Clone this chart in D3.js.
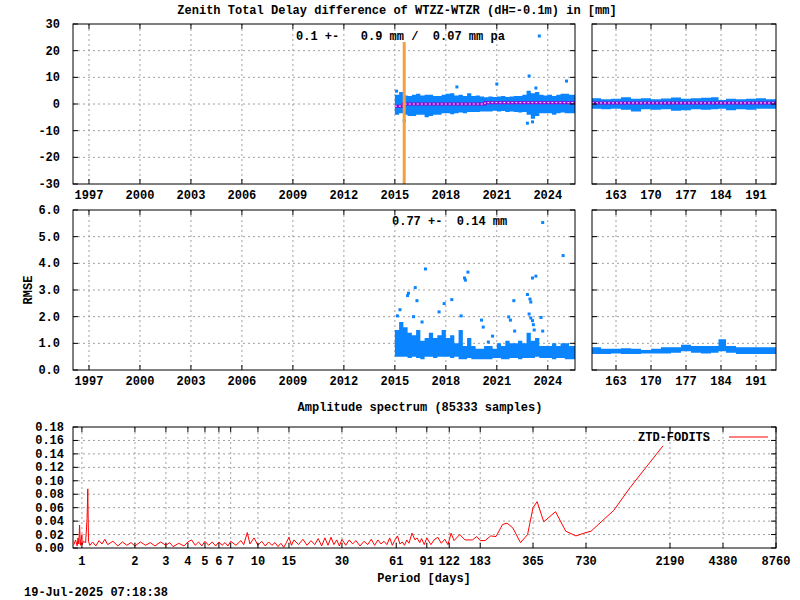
<!DOCTYPE html>
<html>
<head>
<meta charset="utf-8">
<script src="https://cdn.jsdelivr.net/npm/d3@7"></script>
<style>
  body { margin: 0; background: #fff; }
  text { font-family: "Liberation Mono", "DejaVu Sans Mono", monospace; font-weight: bold; font-size: 12px; fill: #000; }
</style>
</head>
<body>
<div id="canvas"></div>
<script>
"use strict"

// ---- data ----
let binYears = [2015.0, 2015.25, 2015.5, 2015.75, 2016.0, 2016.25, 2016.5, 2016.75, 2017.0, 2017.25, 2017.5, 2017.75,
    2018.0, 2018.25, 2018.5, 2018.75, 2019.0, 2019.25, 2019.5, 2019.75, 2020.0, 2020.25, 2020.5, 2020.75, 2021.0,
    2021.25, 2021.5, 2021.75, 2022.0, 2022.25, 2022.5, 2022.75, 2023.0, 2023.25, 2023.5, 2023.75, 2024.0, 2024.25,
    2024.5, 2024.75, 2025.0, 2025.25, 2025.6];
let ztdUpper = [3.5, 4.5, 3.2, 3.0, 3.5, 3.8, 3.2, 3.5, 3.5, 3.0, 3.0, 3.5, 3.8, 4.0, 3.2, 3.5, 3.0, 4.0, 3.0,
    3.2, 2.8, 2.5, 2.8, 2.6, 2.8, 3.0, 2.6, 2.8, 3.0, 3.0, 3.5, 5.0, 4.0, 4.5, 3.5, 3.2, 3.5, 3.0, 3.5, 3.8, 3.8, 3.5, 3.5];
let ztdLower = [-4.0, -3.5, -4.0, -4.5, -4.5, -4.0, -4.0, -5.0, -4.5, -4.0, -4.0, -3.5, -3.5, -3.8, -3.5, -3.2,
    -3.5, -3.0, -3.0, -3.0, -2.8, -2.8, -2.8, -2.5, -2.8, -2.6, -3.0, -2.8, -3.0, -3.2, -3.0, -4.0, -5.5, -4.5,
    -3.5, -3.5, -3.5, -4.0, -3.5, -3.2, -3.5, -3.5, -3.5];
let ztdOutliers = [[2023.5, 25.5], [2022.9, 10.5], [2021.0, 7.5], [2025.1, 8.6], [2018.65, 6.4],
    [2022.8, -7.2], [2023.1, -6.7], [2015.55, -6.3], [2023.3, 6.0], [2015.1, 4.8]];
let meanYears = [2015.0, 2015.5, 2020.3, 2025.6];
let meanValues = [-0.8, 0.0, 0.5, 0.5];

let rmsUpper = [1.5, 1.8, 1.6, 1.4, 1.3, 1.5, 1.1, 1.2, 1.4, 1.2, 1.3, 1.5, 1.2, 1.3, 1.0, 1.5, 0.9, 1.2, 0.9,
    0.8, 0.8, 0.9, 0.9, 0.8, 1.0, 0.9, 1.1, 1.0, 1.0, 1.1, 1.0, 1.4, 1.1, 1.2, 0.9, 0.9, 0.9, 1.0, 0.9, 1.0, 1.0, 0.9, 1.1];
let rmsLower = [0.5, 0.5, 0.5, 0.45, 0.5, 0.45, 0.4, 0.5, 0.5, 0.45, 0.5, 0.5, 0.5, 0.45, 0.5, 0.4, 0.4, 0.45,
    0.4, 0.4, 0.4, 0.4, 0.4, 0.45, 0.45, 0.4, 0.4, 0.45, 0.45, 0.4, 0.45, 0.45, 0.45, 0.5, 0.45, 0.45, 0.45,
    0.4, 0.45, 0.45, 0.4, 0.4, 0.4];
let rmsOutliers = [[2023.7, 5.53], [2024.9, 4.29], [2016.8, 3.79], [2019.3, 3.67], [2019.1, 3.45], [2019.15, 3.37],
    [2023.3, 3.52], [2023.1, 3.45], [2016.2, 3.09], [2015.8, 2.88], [2015.75, 2.79], [2016.3, 2.6], [2018.35, 2.64],
    [2017.9, 2.49], [2017.6, 2.18], [2022.0, 2.6], [2022.8, 2.83], [2022.95, 2.66], [2023.0, 2.55], [2015.3, 2.26],
    [2015.15, 2.03], [2018.9, 2.03], [2020.1, 1.87], [2020.2, 1.61], [2021.7, 1.99], [2021.8, 1.87], [2022.05, 1.46],
    [2023.6, 1.97], [2023.7, 1.46], [2022.9, 2.1], [2023.0, 1.95], [2023.1, 1.85], [2023.15, 1.7], [2023.2, 1.5],
    [2020.75, 1.27], [2020.5, 1.05], [2016.6, 1.8], [2016.1, 2.0]];

let binDays = [158.2, 160, 162, 164, 166, 168, 170, 172, 174, 176, 178, 180, 182, 183.5, 185, 187, 189, 191, 193, 195];
let dayUpper = [2.2, 1.8, 2.0, 2.5, 2.0, 2.2, 1.8, 2.1, 2.4, 2.0, 2.2, 2.3, 2.5, 1.5, 2.0, 1.8, 2.0, 2.2, 1.8, 2.0];
let dayLower = [-1.8, -2.0, -1.8, -2.2, -2.8, -2.0, -2.2, -2.0, -2.5, -2.3, -2.0, -2.2, -2.0, -1.8, -2.3, -2.0, -2.2, -1.8, -1.8, -1.8];
let dayRmsUpper = [0.85, 0.8, 0.8, 0.82, 0.8, 0.75, 0.8, 0.85, 0.85, 0.95, 0.9, 0.9, 0.9, 1.15, 0.9, 0.85, 0.85, 0.85, 0.85, 0.85];
let dayRmsLower = [0.6, 0.6, 0.62, 0.6, 0.6, 0.62, 0.62, 0.62, 0.65, 0.7, 0.65, 0.62, 0.65, 0.7, 0.65, 0.6, 0.6, 0.6, 0.6, 0.6];

let yearTicks = [1997, 2000, 2003, 2006, 2009, 2012, 2015, 2018, 2021, 2024];
let dayTicks = [163, 170, 177, 184, 191];

let periods = [0.9, 0.92, 0.94, 0.95, 0.96, 0.97, 0.98, 1.0, 1.003, 1.02, 1.05, 1.07, 1.08, 1.09, 1.11, 1.15, 1.2,
    1.25, 1.3, 1.35, 1.4, 1.5, 1.6, 1.7, 1.8, 1.9, 2, 2.15, 2.3, 2.45, 2.6, 2.8, 3, 3.15, 3.3, 3.55, 3.8, 4.0, 4.2,
    4.4, 4.6, 4.8, 5, 5.25, 5.5, 5.75, 6, 6.25, 6.5, 6.75, 7, 7.5, 8, 8.3, 8.7, 9, 9.5, 10, 10.5, 11, 11.5, 12,
    12.5, 13, 13.5, 14, 14.5, 15, 15.5, 16, 17, 18, 19, 20, 21, 22, 23, 24, 25, 26, 27, 28, 29, 30, 31.5, 33,
    34.5, 36, 38, 40, 42, 44, 46, 48, 50, 52, 54, 56, 58, 60, 62, 64, 66, 68, 70, 72, 75, 78, 80, 83, 85, 88, 91,
    96, 100, 105, 110, 115, 120, 125, 130, 140, 150, 165, 175, 183, 195, 210, 225, 245, 260, 280, 310, 340, 365,
    385, 420, 490, 560, 640, 730, 780, 900, 1050, 1300, 1600, 2000];
let amplitudes = [0.005, 0.012, 0.003, 0.015, 0.006, 0.034, 0.004, 0.02, 0.005, 0.01, 0.008, 0.044, 0.088, 0.01,
    0.004, 0.009, 0.003, 0.011, 0.006, 0.013, 0.005, 0.01, 0.003, 0.009, 0.004, 0.008, 0.003, 0.009, 0.004, 0.008,
    0.003, 0.009, 0.004, 0.008, 0.002, 0.007, 0.003, 0.009, 0.012, 0.004, 0.009, 0.003, 0.01, 0.004, 0.009, 0.003,
    0.009, 0.004, 0.008, 0.003, 0.01, 0.004, 0.011, 0.005, 0.023, 0.006, 0.015, 0.004, 0.01, 0.003, 0.009, 0.004,
    0.008, 0.002, 0.007, 0.001, 0.008, 0.016, 0.004, 0.012, 0.005, 0.013, 0.004, 0.011, 0.005, 0.014, 0.003, 0.015,
    0.004, 0.016, 0.005, 0.012, 0.003, 0.013, 0.004, 0.012, 0.006, 0.011, 0.003, 0.01, 0.005, 0.013, 0.004, 0.012,
    0.006, 0.01, 0.005, 0.015, 0.004, 0.012, 0.018, 0.006, 0.009, 0.004, 0.012, 0.007, 0.022, 0.012, 0.015, 0.008,
    0.014, 0.005, 0.015, 0.005, 0.012, 0.016, 0.007, 0.013, 0.005, 0.022, 0.011, 0.02, 0.012, 0.012, 0.017, 0.011,
    0.011, 0.018, 0.017, 0.035, 0.037, 0.03, 0.008, 0.02, 0.06, 0.069, 0.039, 0.054, 0.025, 0.018, 0.023, 0.025,
    0.04, 0.056, 0.09, 0.12, 0.152];
let periodTicks = [1, 2, 3, 4, 5, 6, 7, 10, 15, 30, 61, 91, 122, 183, 365, 730, 2190, 4380, 8760];
let ampTicks = [0, 0.02, 0.04, 0.06, 0.08, 0.10, 0.12, 0.14, 0.16, 0.18];

const BLUE = "#0a84ff";

let drawing = d3.select("#canvas").append("svg").attr("width", 800).attr("height", 600);

function grid(g, x, y, xt, yt, x0, x1, y0, y1) {
    g.selectAll(".gx").data(xt).join("line")
        .attr("x1", d => x(d)).attr("x2", d => x(d)).attr("y1", y0).attr("y2", y1)
        .attr("stroke", "#a0a0a0").attr("stroke-dasharray", "2,3");
    g.selectAll(".gy").data(yt).join("line").attr("class", "gy")
        .attr("y1", d => y(d)).attr("y2", d => y(d)).attr("x1", x0).attr("x2", x1)
        .attr("stroke", "#a0a0a0").attr("stroke-dasharray", "2,3");
}

function frame(x0, x1, y0, y1, xScale, xt, yScale, yt) {
    let g = drawing.append("g");
    g.append("rect").attr("x", x0).attr("y", y0).attr("width", x1 - x0).attr("height", y1 - y0)
        .attr("fill", "none").attr("stroke", "#000");
    // inward ticks, mirrored
    xt.forEach(d => {
        g.append("line").attr("x1", xScale(d)).attr("x2", xScale(d)).attr("y1", y1).attr("y2", y1 - 5).attr("stroke", "#000");
        g.append("line").attr("x1", xScale(d)).attr("x2", xScale(d)).attr("y1", y0).attr("y2", y0 + 5).attr("stroke", "#000");
    });
    yt.forEach(d => {
        g.append("line").attr("y1", yScale(d)).attr("y2", yScale(d)).attr("x1", x0).attr("x2", x0 + 5).attr("stroke", "#000");
        g.append("line").attr("y1", yScale(d)).attr("y2", yScale(d)).attr("x1", x1).attr("x2", x1 - 5).attr("stroke", "#000");
    });
    return g;
}

function band(g, xs, up, lo, x, y) {
    let area = d3.area().curve(d3.curveStepAfter)
        .x((d, i) => x(xs[i])).y0((d, i) => y(lo[i])).y1((d, i) => y(up[i]));
    g.append("path").datum(xs).attr("d", area).attr("fill", BLUE);
}

function dots(g, pts, x, y) {
    g.selectAll(null).data(pts).join("rect")
        .attr("x", d => x(d[0]) - 1.5).attr("y", d => y(d[1]) - 1.5)
        .attr("width", 3).attr("height", 3).attr("fill", BLUE);
}

// ---- scales ----
let xYear = d3.scaleLinear().domain([1996.06, 2025.6]).range([73, 575]);
let xDay = d3.scaleLinear().domain([158.2, 195]).range([592, 776]);
let yZtd = d3.scaleLinear().domain([-30, 30]).range([184, 24]);
let yRms = d3.scaleLinear().domain([0, 6]).range([370, 210]);
let xPer = d3.scaleLog().domain([0.89, 8760]).range([73, 776]);
let yAmp = d3.scaleLinear().domain([0, 0.18]).range([548, 427]);

let ztdTicks = d3.range(-30, 31, 10);
let rmsTicks = d3.range(0, 6.1, 1);

// title
drawing.append("text").attr("x", 397).attr("y", 14).attr("text-anchor", "middle")
    .text("Zenith Total Delay difference of WTZZ-WTZR (dH=-0.1m) in [mm]");

// ---- top left ----
let g1 = drawing.append("g");
grid(g1, xYear, yZtd, yearTicks, ztdTicks.slice(1, -1), 73, 575, 24, 184);
band(g1, binYears, ztdUpper, ztdLower, xYear, yZtd);
dots(g1, ztdOutliers, xYear, yZtd);
g1.append("path").datum(meanYears)
    .attr("d", d3.line().curve(d3.curveStepAfter).x(d => xYear(d)).y((d, i) => yZtd(meanValues[i])))
    .attr("fill", "none").attr("stroke", "#9400d3").attr("stroke-width", 3);
g1.append("path").datum(meanYears)
    .attr("d", d3.line().curve(d3.curveStepAfter).x(d => xYear(d)).y((d, i) => yZtd(meanValues[i])))
    .attr("fill", "none").attr("stroke", "#fff").attr("stroke-width", 1).attr("stroke-dasharray", "2,2");
g1.append("line").attr("x1", xYear(2015.55)).attr("x2", xYear(2015.55)).attr("y1", 42).attr("y2", 184)
    .attr("stroke", "#f4a040").attr("stroke-width", 3);
frame(73, 575, 24, 184, xYear, yearTicks, yZtd, ztdTicks);
g1.append("text").attr("x", 296).attr("y", 40).attr("xml:space", "preserve").text("0.1 +-   0.9 mm /  0.07 mm pa");
ztdTicks.forEach(d => drawing.append("text").attr("x", 60).attr("y", yZtd(d) + 4).attr("text-anchor", "end").text(d));
yearTicks.forEach(d => drawing.append("text").attr("x", xYear(d)).attr("y", 199).attr("text-anchor", "middle").text(d));

// ---- top right ----
let g2 = drawing.append("g");
grid(g2, xDay, yZtd, dayTicks, ztdTicks.slice(1, -1), 592, 776, 24, 184);
band(g2, binDays, dayUpper, dayLower, xDay, yZtd);
g2.append("line").attr("x1", 592).attr("x2", 776).attr("y1", yZtd(0.4)).attr("y2", yZtd(0.4))
    .attr("stroke", "#9400d3").attr("stroke-width", 3);
g2.append("line").attr("x1", 592).attr("x2", 776).attr("y1", yZtd(0.4)).attr("y2", yZtd(0.4))
    .attr("stroke", "#fff").attr("stroke-dasharray", "2,2");
frame(592, 776, 24, 184, xDay, dayTicks, yZtd, ztdTicks);
dayTicks.forEach(d => drawing.append("text").attr("x", xDay(d)).attr("y", 199).attr("text-anchor", "middle").text(d));

// ---- middle left ----
let g3 = drawing.append("g");
grid(g3, xYear, yRms, yearTicks, rmsTicks.slice(1, -1), 73, 575, 210, 370);
band(g3, binYears, rmsUpper, rmsLower, xYear, yRms);
dots(g3, rmsOutliers, xYear, yRms);
frame(73, 575, 210, 370, xYear, yearTicks, yRms, rmsTicks);
g3.append("text").attr("x", 392).attr("y", 225).attr("xml:space", "preserve").text("0.77 +-  0.14 mm");
rmsTicks.forEach(d => drawing.append("text").attr("x", 60).attr("y", yRms(d) + 4).attr("text-anchor", "end").text(d.toFixed(1)));
yearTicks.forEach(d => drawing.append("text").attr("x", xYear(d)).attr("y", 385).attr("text-anchor", "middle").text(d));
drawing.append("text").attr("transform", "translate(32,290) rotate(-90)").attr("text-anchor", "middle").text("RMSE");

// ---- middle right ----
let g4 = drawing.append("g");
grid(g4, xDay, yRms, dayTicks, rmsTicks.slice(1, -1), 592, 776, 210, 370);
band(g4, binDays, dayRmsUpper, dayRmsLower, xDay, yRms);
frame(592, 776, 210, 370, xDay, dayTicks, yRms, rmsTicks);
dayTicks.forEach(d => drawing.append("text").attr("x", xDay(d)).attr("y", 385).attr("text-anchor", "middle").text(d));

// ---- spectrum ----
drawing.append("text").attr("x", 420).attr("y", 411).attr("text-anchor", "middle").text("Amplitude spectrum (85333 samples)");
let g5 = drawing.append("g");
grid(g5, xPer, yAmp, periodTicks, ampTicks.slice(1, -1), 73, 776, 427, 548);
g5.append("path").datum(periods)
    .attr("d", d3.line().x(d => xPer(d)).y((d, i) => yAmp(amplitudes[i])))
    .attr("fill", "none").attr("stroke", "#f00").attr("stroke-width", 1);
frame(73, 776, 427, 548, xPer, periodTicks, yAmp, ampTicks);
ampTicks.forEach(d => drawing.append("text").attr("x", 64).attr("y", yAmp(d) + 4).attr("text-anchor", "end").text(d.toFixed(2)));
periodTicks.forEach(d => drawing.append("text").attr("x", xPer(d)).attr("y", 565).attr("text-anchor", "middle").text(d));
drawing.append("text").attr("x", 710).attr("y", 441).attr("text-anchor", "end").text("ZTD-FODITS");
drawing.append("line").attr("x1", 729).attr("x2", 768).attr("y1", 437).attr("y2", 437).attr("stroke", "#f00");
drawing.append("text").attr("x", 424).attr("y", 582).attr("text-anchor", "middle").text("Period [days]");
drawing.append("text").attr("x", 24).attr("y", 596).text("19-Jul-2025 07:18:38");
</script>
</body>
</html>
